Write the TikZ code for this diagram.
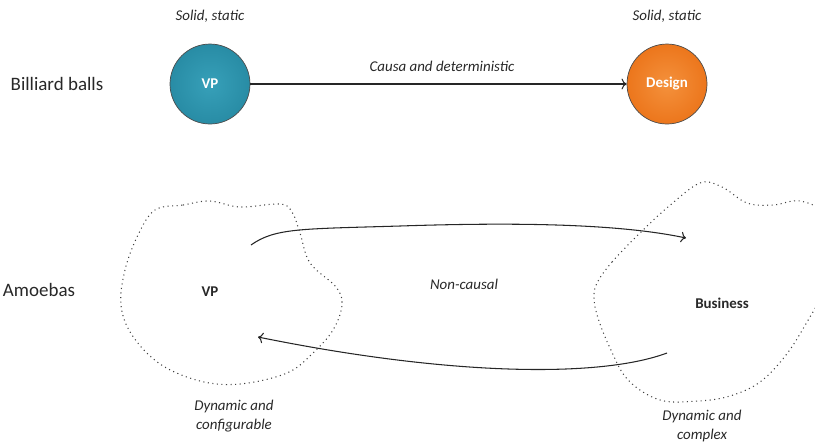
\documentclass[tikz,border=0pt]{standalone}
\usepackage{fontspec}
\setmainfont{Carlito}
\usetikzlibrary{arrows.meta}

\definecolor{vpteal}{RGB}{40,140,165}
\definecolor{vptealin}{RGB}{55,160,185}
\definecolor{designorange}{RGB}{236,118,28}
\definecolor{designorangein}{RGB}{244,145,60}
\definecolor{textgray}{RGB}{40,40,40}

\begin{document}
\begin{tikzpicture}[
        x=0.02cm, y=-0.02cm,
        ball/.style={
            circle,
            draw=black!70,
            minimum size=1.6cm,
            inner sep=0pt,
            text=white,
            font=\fontsize{8.5}{10}\selectfont\bfseries
        },
        amoeba/.style={draw=black!75, dotted, line width=0.6pt},
        rowlabel/.style={font=\fontsize{10.8}{13}\selectfont, text=textgray},
        note/.style={font=\fontsize{8.5}{10.5}\selectfont\itshape, text=textgray, align=center},
        blobname/.style={font=\fontsize{8.5}{10}\selectfont\bfseries, text=textgray},
        arrow/.style={->, line width=0.6pt, black!85}
    ]

    \useasboundingbox (0,0) rectangle (815,441);
    \clip (0,0) rectangle (815,441);

    % =========================
    % Billiard balls
    % =========================
    \node[rowlabel] (billiard) at (57,84) {Billiard balls};

    \node[ball, shading=radial, inner color=vptealin, outer color=vpteal] (vp) at (210,84) {VP};
    \node[ball, shading=radial, inner color=designorangein, outer color=designorange] (design) at (667,84) {Design};

    \node[note] (vpstate)     at (210,16) {Solid, static};
    \node[note] (designstate) at (667,16) {Solid, static};

    \draw[arrow] (vp) -- (design);
    \node[note] (causal) at (442,66) {Causa\ and\ deterministic};

    % =========================
    % Amoebas
    % =========================
    \node[rowlabel] (amoebas) at (39,290) {Amoebas};

    % VP blob
    \draw[amoeba] plot[smooth cycle, tension=0.6] coordinates {
        (155,210) (183,205) (210,201) (240,207) (280,204) (292,212)
        (300,233) (310,263) (336,287) (342,305) (333,330) (313,353)
        (287,373) (240,384) (200,381) (160,364) (132,335) (121,305)
        (125,270) (138,235)};
    \node[blobname] (vpblob) at (210,292) {VP};

    % Business blob
    \draw[amoeba] plot[smooth cycle, tension=0.6] coordinates {
        (597,283) (612,262) (640,233) (668,207) (700,183) (722,187)
        (747,203) (773,205) (800,201) (825,215) (832,255) (824,290)
        (807,322) (786,355) (760,382) (730,396) (698,401) (660,400)
        (628,380) (610,348) (598,318) (594,298)};
    \node[blobname] (business) at (722,303) {Business};

    % interaction between the two
    \coordinate (fwdstart) at (251,245);
    \coordinate (fwdend)   at (686,238);
    \coordinate (backstart) at (667,353);
    \coordinate (backend)   at (258,337);

    \draw[arrow] (fwdstart) .. controls (275,228) and (300,229) .. (400,226)
        .. controls (520,222) and (620,224) .. (fwdend);
    \draw[arrow] (backstart) .. controls (600,378) and (450,376) .. (backend);

    \node[note] (noncausal) at (464,284) {Non-causal};

    \node[note] (vpnature)       at (234,416) {Dynamic and\\configurable};
    \node[note] (businessnature) at (702,426) {Dynamic and\\complex};

\end{tikzpicture}
\end{document}
